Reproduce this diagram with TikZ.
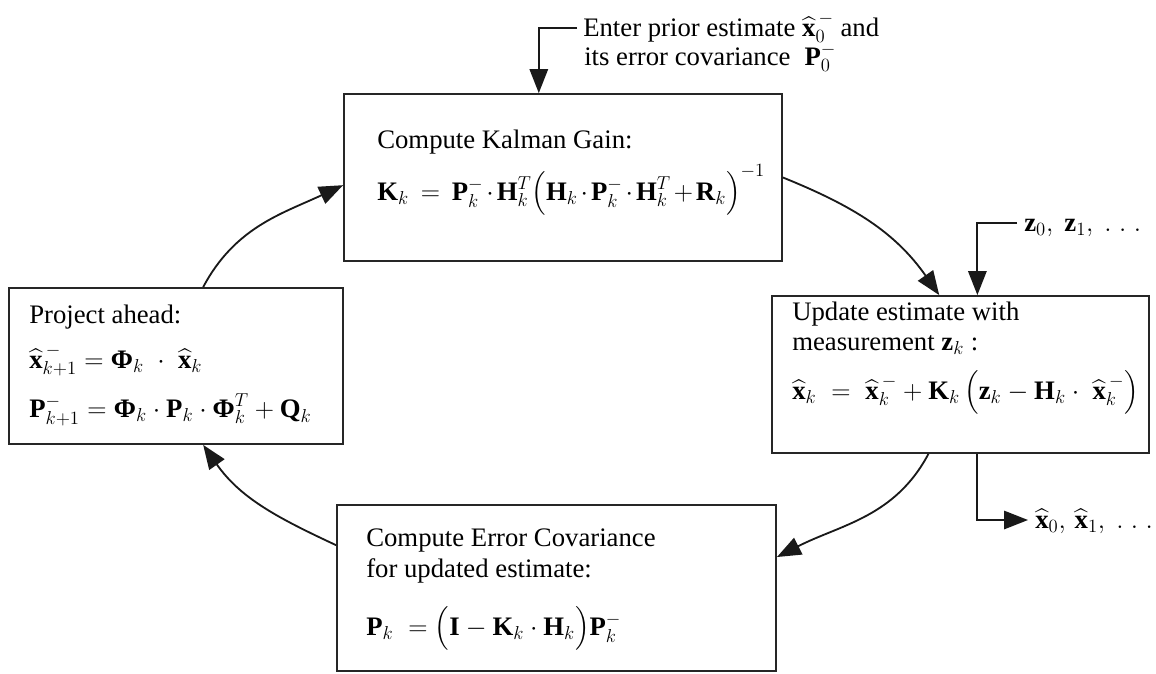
\RequirePackage{fix-cm}
\documentclass[tikz,border=0pt]{standalone}
\usepackage{amsmath}
\usepackage{fontspec}
\setmainfont{Liberation Serif}
\usepackage{tikz}
\usetikzlibrary{arrows.meta,positioning,fit}
\newcommand{\vb}[1]{\text{\bfseries #1}}
\newcommand{\xh}{\widehat{\vb{x}}}
\newcommand{\sdots}{.\;.\;.}
\tikzset{
  stagebox/.style={rectangle,draw=black!85,line width=1.3pt,inner sep=0pt},
  boxtext/.style={inner sep=0pt,anchor=base west,font=\fontsize{19}{23}\selectfont},
  tighteq/.style={boxtext,execute at begin node={\medmuskip=2mu\relax\thickmuskip=4mu\relax}},
  flow/.style={-{Triangle[length=6mm,width=4.6mm]},line width=1.3pt,draw=black!90}
}

\begin{document}
\begin{tikzpicture}[x=0.025cm,y=-0.025cm]
\useasboundingbox (0,0) rectangle (1156,673);
% the four stages
\node[stagebox,fit={(344,94) (782,261)}] (gain) {};
\node[stagebox,fit={(9,288) (343,444)}] (proj) {};
\node[stagebox,fit={(772,296) (1149,453)}] (upd) {};
\node[stagebox,fit={(337,505) (776,671)}] (cov) {};
% texts in the boxes
\node[boxtext] (gaintitle) at (377,148) {Compute Kalman Gain:};
\node[tighteq] (gaineq) at (377,200) {$\vb{K}_k \;=\; \vb{P}_k^{-}\cdot\vb{H}_k^{T}\Bigl(\vb{H}_k\cdot\vb{P}_k^{-}\cdot\vb{H}_k^{T}+\vb{R}_k\Bigr)^{-1}$};
\node[boxtext] (projtitle) at (29,323) {Project ahead:};
\node[boxtext] (projeqa) at (29,368) {$\xh_{k+1}^{\,-} = \vb{Φ}_k\;\cdot\;\xh_k$};
\node[boxtext] (projeqb) at (29,417) {$\vb{P}_{k+1}^{-} = \vb{Φ}_k\cdot\vb{P}_k\cdot\vb{Φ}_k^{T} + \vb{Q}_k$};
\node[boxtext] (updtitlea) at (792,320) {Update estimate with};
\node[boxtext] (updtitleb) at (792,350) {measurement $\vb{z}_k$ :};
\node[boxtext] (updeq) at (792,399) {$\xh_k \;=\; \xh_k^{\,-} + \vb{K}_k\,\Bigl(\vb{z}_k - \vb{H}_k\cdot\;\xh_k^{\,-}\Bigr)$};
\node[boxtext] (covtitlea) at (366,546) {Compute Error Covariance};
\node[boxtext] (covtitleb) at (366,577) {for updated estimate:};
\node[boxtext] (coveq) at (366,635) {$\vb{P}_k \;=\Bigl(\vb{I}-\vb{K}_k\cdot\vb{H}_k\Bigr)\vb{P}_k^{-}$};
% inputs and output
\node[boxtext] (priora) at (583,36) {Enter prior estimate $\xh_0^{\,-}$ and};
\node[boxtext] (priorb) at (584,65) {its error covariance $\;\vb{P}_0^{-}$};
\node[boxtext] (zlist) at (1024,231) {$\vb{z}_0,\ \vb{z}_1,\ \sdots$};
\node[boxtext] (xlist) at (1035,528) {$\xh_0,\,\xh_1,\ \sdots$};
\coordinate (priorin) at (577,28);
\coordinate (zin) at (1017,223);
\coordinate (xout) at (1028,520);
\draw[flow] (priorin) -| (gain.106);
\draw[flow] (zin) -| (upd.78);
\draw[flow] (upd.-78) |- (xout);
% the loop
\draw[flow] (gain.east) to[out=-22,in=125] (upd.105);
\draw[flow] (upd.248) to[out=-118,in=27] (cov.8);
\draw[flow] (cov.169) to[out=155,in=-55] (proj.-71);
\draw[flow] (proj.71) to[out=62,in=205] (gain.182);
\end{tikzpicture}
\end{document}
